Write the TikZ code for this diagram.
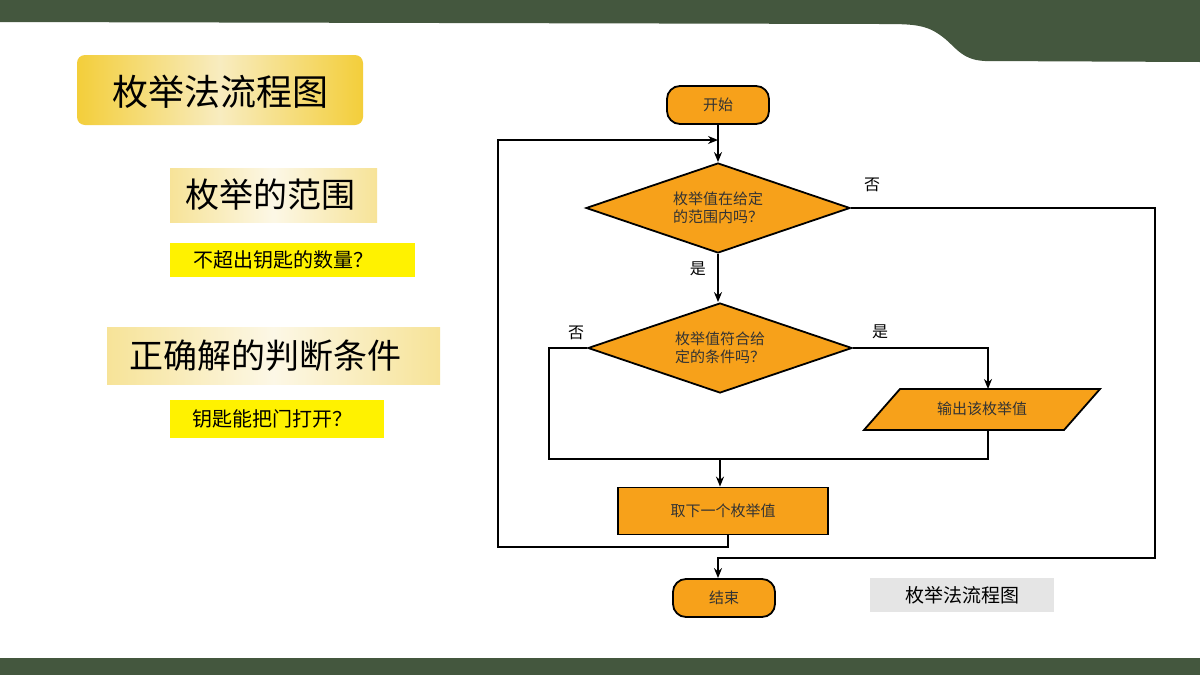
\documentclass[tikz,border=0pt]{standalone}
\usepackage{fontspec}
\setmainfont{Noto Sans CJK SC}
\usetikzlibrary{shapes.geometric,arrows.meta}
\definecolor{dgreen}{HTML}{44573E}
\definecolor{orng}{HTML}{F7A11A}
\definecolor{gold}{HTML}{F3CE3A}
\definecolor{pale}{HTML}{F8ECC0}
\tikzset{
  fl/.style={draw=black,line width=1.8pt,fill=orng,font=\fontsize{15}{18}\selectfont,text=black!80},
  term/.style={fl,rounded corners=13pt,minimum width=102pt,minimum height=38pt},
  dia/.style={fl,diamond,aspect=2.93,inner sep=0pt,minimum width=264pt,minimum height=90pt,align=center},
  ln/.style={line width=1.8pt},
  ar/.style={ln,-{Stealth[length=10pt,width=8pt]}},
  lbl/.style={font=\fontsize{16}{18}\selectfont},
}
\begin{document}
\begin{tikzpicture}[x=1pt,y=-1pt]
\useasboundingbox (0,0) rectangle (1200,675);
\fill[white] (0,0) rectangle (1200,675);
% green bands
\fill[dgreen] (0,0) -- (1200,0) -- (1200,62) -- (985,61) .. controls (960,60) and (955,45) .. (940,35) .. controls (925,24) and (910,24) .. (880,24) -- (0,22) -- cycle;
\fill[dgreen] (0,658) rectangle (1200,675);
% left panel
\shade[left color=gold,right color=gold,middle color=pale,rounded corners=8pt] (77,55) rectangle (363,125);
\node (t1) at (220,92) {\fontsize{36}{40}\selectfont 枚举法流程图};
\shade[left color=pale!70!gold,right color=pale!70!gold,middle color=pale!40] (170,168) rectangle (377,222);
\node (t2) at (270,195) {\fontsize{34}{38}\selectfont 枚举的范围};
\fill[yellow] (170,243) rectangle (415,277);
\node (t3) at (283,260) {\fontsize{20}{22}\selectfont 不超出钥匙的数量？};
\shade[left color=pale!70!gold,right color=pale!70!gold,middle color=pale!40] (107,327) rectangle (440,384);
\node (t4) at (265,356) {\fontsize{34}{38}\selectfont 正确解的判断条件};
\fill[yellow] (170,400) rectangle (384,438);
\node (t5) at (272,419) {\fontsize{20}{22}\selectfont 钥匙能把门打开？};
% flowchart
\node[term] (start) at (718,105) {开始};
\node[dia] (d1) at (718,208) {枚举值在给定\\的范围内吗？};
\node[dia] (d2) at (720,348) {枚举值符合给\\定的条件吗？};
\draw[fl] (900,389) -- (1100,389) -- (1064,430) -- (864,430) -- cycle;
\node[font=\fontsize{15}{18}\selectfont,text=black!80] (out) at (982,409) {输出该枚举值};
\node[fl,minimum width=210pt,minimum height=47pt] (next) at (723,511) {取下一个枚举值};
\node[term] (end) at (724,598) {结束};
\node[fill=black!10,minimum width=184pt,minimum height=34pt,font=\fontsize{19}{22}\selectfont] (cap) at (962,595) {枚举法流程图};
\coordinate (loopin) at (718,140);
\coordinate (outtop) at (988,389);
\coordinate (outbot) at (988,430);
\draw[ar] (start.south) -- (d1.north);
\draw[ar] (d1.south) -- node[lbl,left=8pt,pos=0.3]{是} (d2.north -| d1.south);
\draw[ar] (next.south -| 728,0) -- (728,547) -- (498,547) -- (498,140) -- (loopin);
\draw[ar] (d1.east) -- (1155,208) -- (1155,558) -- (718,558) -- (end.north -| 718,0);
\node[lbl] (no1) at (872,185) {否};
\draw[ar] (d2.east) -- (outtop |- d2.east) -- (outtop);
\node[lbl] (yes2) at (880,332) {是};
\node[lbl] (no2) at (576,333) {否};
\draw[ln] (d2.west) -- (549,348) -- (549,459) -- (988,459) -- (outbot);
\draw[ar] (720,459) -- (next.north -| 720,0);
\end{tikzpicture}
\end{document}
